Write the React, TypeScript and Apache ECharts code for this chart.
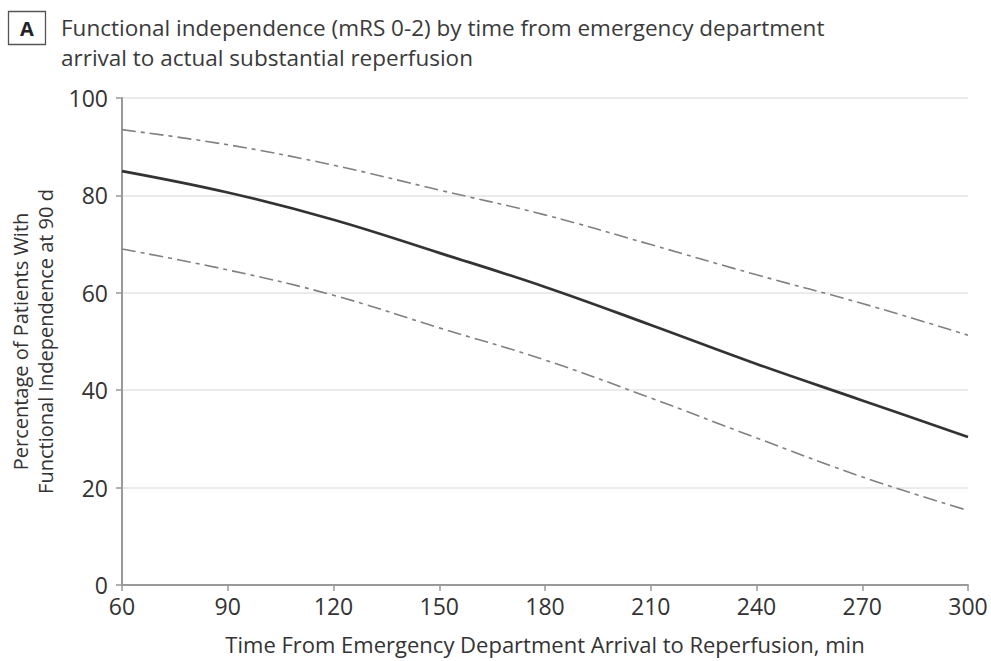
import React, { useEffect, useRef } from "react";
import * as echarts from "echarts";

const minutes = [60, 90, 120, 150, 180, 210, 240, 270, 300];
const estimate = [85, 80.6, 75, 68.2, 61.2, 53.4, 45.4, 37.9, 30.4];
const upperCI = [93.5, 90.4, 86.2, 81.1, 76, 69.9, 63.7, 57.8, 51.3];
const lowerCI = [69, 64.7, 59.5, 52.8, 46.2, 38.4, 30.2, 22.2, 15.3];
const yTicks = [0, 20, 40, 60, 80, 100];

const titleLines = [
  "Functional independence (mRS 0-2) by time from emergency department",
  "arrival to actual substantial reperfusion",
];
const xAxisName = "Time From Emergency Department Arrival to Reperfusion, min";
const yAxisName = "Percentage of Patients With\nFunctional Independence at 90 d";

const FONT = "'Open Sans', 'Noto Sans', sans-serif";

export default function App() {
  const ref = useRef<HTMLDivElement>(null);
  useEffect(() => {
    if (!ref.current) return;
    const chart = echarts.init(ref.current, null, { renderer: "svg" });
    const pair = (arr: number[]) => minutes.map((m, i) => [m, arr[i]]);
    chart.setOption({
      animation: false,
      backgroundColor: "#ffffff",
      textStyle: { fontFamily: FONT },
      graphic: [
        {
          type: "rect",
          shape: { x: 8.5, y: 11.5, width: 37, height: 33 },
          style: { fill: "#fff", stroke: "#555", lineWidth: 1.3 },
        },
        {
          type: "text",
          x: 27,
          y: 28.5,
          style: {
            text: "A",
            font: `bold 20px ${FONT}`,
            fill: "#222",
            align: "center",
            verticalAlign: "middle",
          },
        },
        {
          type: "text",
          x: 61,
          y: 27,
          style: {
            text: titleLines[0],
            font: `22.5px ${FONT}`,
            fill: "#3a3a3a",
            verticalAlign: "middle",
          },
        },
        {
          type: "text",
          x: 61,
          y: 57,
          style: {
            text: titleLines[1],
            font: `22.5px ${FONT}`,
            fill: "#3a3a3a",
            verticalAlign: "middle",
          },
        },
      ],
      grid: {
        left: 122,
        right: 23,
        top: 98,
        bottom: 76,
        containLabel: false,
        outerBoundsMode: "none",
      },
      xAxis: {
        type: "value",
        min: 60,
        max: 300,
        interval: 30,
        name: xAxisName,
        nameLocation: "middle",
        nameGap: 48,
        nameTextStyle: { fontSize: 22, color: "#333", fontFamily: FONT },
        axisLine: { lineStyle: { color: "#999", width: 2 } },
        axisTick: { show: true, length: 6, lineStyle: { color: "#999", width: 1.5 } },
        axisLabel: { fontSize: 23, color: "#333", margin: 9, fontFamily: FONT },
        splitLine: { show: false },
      },
      yAxis: {
        type: "value",
        min: 0,
        max: 100,
        interval: 20,
        name: yAxisName,
        nameLocation: "middle",
        nameGap: 63,
        nameRotate: 90,
        nameTextStyle: { fontSize: 20, color: "#333", lineHeight: 25, fontFamily: FONT },
        axisLine: { show: true, lineStyle: { color: "#999", width: 2 } },
        axisTick: { show: true, length: 6, lineStyle: { color: "#999", width: 1.5 } },
        axisLabel: {
          fontSize: 23,
          color: "#333",
          margin: 14,
          fontFamily: FONT,
          formatter: (v: number) => (yTicks.includes(v) ? String(v) : ""),
        },
        splitLine: { show: true, lineStyle: { color: "#e4e4e4", width: 1.5 } },
      },
      series: [
        {
          type: "line",
          data: pair(upperCI),
          smooth: 0.4,
          symbol: "none",
          lineStyle: { color: "#808080", width: 1.6, type: [14, 5, 4, 5] },
          z: 2,
        },
        {
          type: "line",
          data: pair(lowerCI),
          smooth: 0.4,
          symbol: "none",
          lineStyle: { color: "#808080", width: 1.6, type: [14, 5, 4, 5] },
          z: 2,
        },
        {
          type: "line",
          data: pair(estimate),
          smooth: 0.4,
          symbol: "none",
          lineStyle: { color: "#333", width: 2.7 },
          z: 3,
        },
      ],
    });
    return () => chart.dispose();
  }, []);
  return (
    <div
      ref={ref}
      style={{ position: "absolute", left: 0, top: 0, width: 991, height: 661 }}
    />
  );
}
